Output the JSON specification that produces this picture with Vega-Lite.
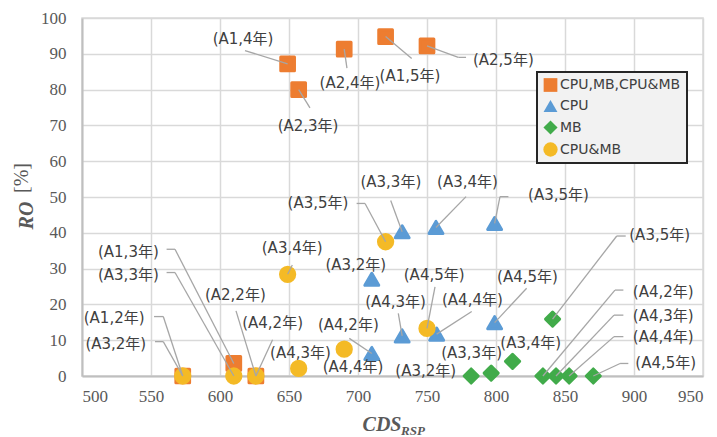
{
  "$schema": "https://vega.github.io/schema/vega-lite/v6.json",
  "width": 621,
  "height": 358,
  "autosize": "none",
  "padding": {"left": 82, "top": 18, "right": 14, "bottom": 61},
  "background": "white",
  "datasets": {
    "points": [
      {"s": "CPU,MB,CPU&MB", "x": 573, "y": 0},
      {"s": "CPU,MB,CPU&MB", "x": 610, "y": 3.5},
      {"s": "CPU,MB,CPU&MB", "x": 649, "y": 87.2},
      {"s": "CPU,MB,CPU&MB", "x": 720, "y": 94.8},
      {"s": "CPU,MB,CPU&MB", "x": 626, "y": 0},
      {"s": "CPU,MB,CPU&MB", "x": 657, "y": 80},
      {"s": "CPU,MB,CPU&MB", "x": 690, "y": 91.3},
      {"s": "CPU,MB,CPU&MB", "x": 750, "y": 92.2},
      {"s": "CPU", "x": 710, "y": 27},
      {"s": "CPU", "x": 732, "y": 40.3},
      {"s": "CPU", "x": 756.5, "y": 41.5},
      {"s": "CPU", "x": 799, "y": 42.6},
      {"s": "CPU", "x": 710, "y": 6.3},
      {"s": "CPU", "x": 732, "y": 11.2},
      {"s": "CPU", "x": 757, "y": 11.7},
      {"s": "CPU", "x": 799, "y": 14.9},
      {"s": "MB", "x": 782, "y": 0},
      {"s": "MB", "x": 796.5, "y": 0.8},
      {"s": "MB", "x": 812, "y": 4.1},
      {"s": "MB", "x": 841, "y": 15.9},
      {"s": "MB", "x": 834, "y": 0},
      {"s": "MB", "x": 843.5, "y": 0},
      {"s": "MB", "x": 853, "y": 0},
      {"s": "MB", "x": 870.5, "y": 0},
      {"s": "CPU&MB", "x": 573, "y": 0},
      {"s": "CPU&MB", "x": 610, "y": 0},
      {"s": "CPU&MB", "x": 649, "y": 28.4},
      {"s": "CPU&MB", "x": 720, "y": 37.5},
      {"s": "CPU&MB", "x": 626, "y": 0},
      {"s": "CPU&MB", "x": 657, "y": 2.1},
      {"s": "CPU&MB", "x": 690, "y": 7.5},
      {"s": "CPU&MB", "x": 750, "y": 13.3}
    ],
    "labels": [
      {"t": "(A1,2年)", "lx": 523.3, "ly": 16.1, "px": 573, "py": 0, "ex": 558.9, "ey": 16.6, "hx": 552.2},
      {"t": "(A1,3年)", "lx": 533.6, "ly": 34.7, "px": 610, "py": 3.5, "ex": 567.4, "ey": 35.4, "hx": 561.3},
      {"t": "(A1,4年)", "lx": 616.7, "ly": 94.1, "px": 649, "py": 87.2, "ex": 618.1, "ey": 90.9},
      {"t": "(A1,5年)", "lx": 737.7, "ly": 83.8, "px": 720, "py": 94.8, "ex": 738.9, "ey": 88.7},
      {"t": "(A2,2年)", "lx": 611.1, "ly": 22.6, "px": 626, "py": 0, "ex": 611.6, "ey": 18.2},
      {"t": "(A2,3年)", "lx": 663.8, "ly": 69.8, "px": 657, "py": 80, "ex": 665.2, "ey": 74.9},
      {"t": "(A2,4年)", "lx": 694.2, "ly": 81.8, "px": 690, "py": 91.3, "ex": 692, "ey": 86},
      {"t": "(A2,5年)", "lx": 805.3, "ly": 88.3, "px": 750, "py": 92.2, "ex": 772.7, "ey": 89, "hx": 778.3},
      {"t": "(A3,2年)", "lx": 698.4, "ly": 31},
      {"t": "(A3,3年)", "lx": 723.8, "ly": 54.1, "px": 732, "py": 40.3, "ex": 723.7, "ey": 49},
      {"t": "(A3,4年)", "lx": 779.3, "ly": 54.1, "px": 756.5, "py": 41.5, "ex": 778.3, "ey": 50.1},
      {"t": "(A3,5年)", "lx": 845.3, "ly": 50.6, "px": 799, "py": 42.6, "ex": 802.9, "ey": 50.1, "hx": 809},
      {"t": "(A4,2年)", "lx": 693, "ly": 14.2, "px": 710, "py": 6.3, "ex": 693.7, "ey": 10.5},
      {"t": "(A4,3年)", "lx": 727.2, "ly": 20.8, "px": 732, "py": 11.2, "ex": 729.2, "ey": 17.5},
      {"t": "(A4,4年)", "lx": 782.9, "ly": 21.2, "px": 757, "py": 11.7, "ex": 782.4, "ey": 18},
      {"t": "(A4,5年)", "lx": 822.8, "ly": 27.7, "px": 799, "py": 14.9, "ex": 822.2, "ey": 24.5},
      {"t": "(A3,2年)", "lx": 749.1, "ly": 1.5},
      {"t": "(A3,3年)", "lx": 782.3, "ly": 6.5},
      {"t": "(A3,4年)", "lx": 825.2, "ly": 9.1},
      {"t": "(A3,5年)", "lx": 918.6, "ly": 39.4, "px": 841, "py": 15.9, "ex": 887.5, "ey": 39.1, "hx": 894},
      {"t": "(A4,2年)", "lx": 921.2, "ly": 23.5, "px": 834, "py": 0, "ex": 886.2, "ey": 24, "hx": 892.3},
      {"t": "(A4,3年)", "lx": 921.2, "ly": 16.8, "px": 843.5, "py": 0, "ex": 885.5, "ey": 17, "hx": 892.3},
      {"t": "(A4,4年)", "lx": 921.2, "ly": 10.8, "px": 853, "py": 0, "ex": 885.5, "ey": 11, "hx": 892.3},
      {"t": "(A4,5年)", "lx": 923, "ly": 3.7, "px": 870.5, "py": 0, "ex": 889.9, "ey": 3.5, "hx": 895.9},
      {"t": "(A3,2年)", "lx": 524.5, "ly": 8.9, "px": 573, "py": 0, "ex": 558.9, "ey": 9.6, "hx": 552.9},
      {"t": "(A3,3年)", "lx": 533.6, "ly": 28.2, "px": 610, "py": 0, "ex": 567.4, "ey": 28.9, "hx": 561.3},
      {"t": "(A3,4年)", "lx": 652.3, "ly": 35.7, "px": 649, "py": 28.4, "ex": 652.4, "ey": 31},
      {"t": "(A3,5年)", "lx": 671, "ly": 48.3, "px": 720, "py": 37.5, "ex": 705.1, "ey": 48.2, "hx": 699},
      {"t": "(A4,2年)", "lx": 638.1, "ly": 14.9, "px": 626, "py": 0, "ex": 638.1, "ey": 10.1},
      {"t": "(A4,3年)", "lx": 658.3, "ly": 6.5},
      {"t": "(A4,4年)", "lx": 696.4, "ly": 2.6},
      {"t": "(A4,5年)", "lx": 755.2, "ly": 28.2, "px": 750, "py": 13.3, "ex": 755.8, "ey": 24.9}
    ]
  },
  "layer": [
    {
      "data": {"name": "points"},
      "mark": {"type": "point", "filled": true, "opacity": 1, "strokeWidth": 3, "strokeJoin": "round", "strokeOpacity": 1},
      "encoding": {
        "x": {
          "field": "x", "type": "quantitative",
          "scale": {"domain": [500, 950], "nice": false, "zero": false},
          "axis": {"values": [500, 550, 600, 650, 700, 750, 800, 850, 900, 950], "labelPadding": 12, "title": "CDS", "titleX": 299.5, "titleY": 54, "titleAlign": "center", "titleBaseline": "alphabetic"}
        },
        "y": {
          "field": "y", "type": "quantitative",
          "scale": {"domain": [0, 100], "nice": false},
          "axis": {"values": [0, 10, 20, 30, 40, 50, 60, 70, 80, 90, 100], "labelPadding": 16, "title": "RO", "titleX": -50, "titleY": 197, "titleAngle": 270, "titleAlign": "center", "titleBaseline": "alphabetic"}
        },
        "color": {
          "field": "s", "type": "nominal",
          "scale": {"domain": ["CPU,MB,CPU&MB", "CPU", "MB", "CPU&MB"], "range": ["#ed7d31", "#5b9bd5", "#41ab4a", "#f4ba26"]},
          "legend": {"orient": "none", "legendX": 455, "legendY": 54, "title": null}
        },
        "shape": {
          "field": "s", "type": "nominal",
          "scale": {"domain": ["CPU,MB,CPU&MB", "CPU", "MB", "CPU&MB"], "range": ["square", "triangle-up", "diamond", "circle"]},
          "legend": {"orient": "none", "legendX": 455, "legendY": 54, "title": null}
        },
        "stroke": {
          "field": "s", "type": "nominal",
          "scale": {"domain": ["CPU,MB,CPU&MB", "CPU", "MB", "CPU&MB"], "range": ["#ed7d31", "#5b9bd5", "#41ab4a", "#f4ba26"]},
          "legend": null
        },
        "size": {
          "field": "s", "type": "ordinal",
          "scale": {"domain": ["CPU,MB,CPU&MB", "CPU", "MB", "CPU&MB"], "range": [188, 204, 188, 147]},
          "legend": null
        }
      }
    },
    {
      "data": {"name": "labels"},
      "transform": [{"filter": {"field": "ex", "valid": true}}],
      "mark": {"type": "rule", "color": "#a6a6a6", "strokeWidth": 1.3},
      "encoding": {
        "x": {"field": "px", "type": "quantitative", "axis": {"values": [500, 550, 600, 650, 700, 750, 800, 850, 900, 950], "labelPadding": 12, "title": "CDS", "titleX": 299.5, "titleY": 54, "titleAlign": "center", "titleBaseline": "alphabetic"}},
        "y": {"field": "py", "type": "quantitative", "axis": {"values": [0, 10, 20, 30, 40, 50, 60, 70, 80, 90, 100], "labelPadding": 16, "title": "RO", "titleX": -50, "titleY": 197, "titleAngle": 270, "titleAlign": "center", "titleBaseline": "alphabetic"}},
        "x2": {"field": "ex"},
        "y2": {"field": "ey"}
      }
    },
    {
      "data": {"name": "labels"},
      "transform": [{"filter": {"field": "hx", "valid": true}}],
      "mark": {"type": "rule", "color": "#a6a6a6", "strokeWidth": 1.3},
      "encoding": {
        "x": {"field": "ex", "type": "quantitative", "axis": {"values": [500, 550, 600, 650, 700, 750, 800, 850, 900, 950], "labelPadding": 12, "title": "CDS", "titleX": 299.5, "titleY": 54, "titleAlign": "center", "titleBaseline": "alphabetic"}},
        "y": {"field": "ey", "type": "quantitative", "axis": {"values": [0, 10, 20, 30, 40, 50, 60, 70, 80, 90, 100], "labelPadding": 16, "title": "RO", "titleX": -50, "titleY": 197, "titleAngle": 270, "titleAlign": "center", "titleBaseline": "alphabetic"}},
        "x2": {"field": "hx"}
      }
    },
    {
      "data": {"name": "labels"},
      "mark": {"type": "text", "font": "DejaVu Sans, Noto Sans CJK JP", "fontSize": 15, "color": "#404040", "align": "center", "baseline": "middle"},
      "encoding": {
        "x": {"field": "lx", "type": "quantitative", "axis": {"values": [500, 550, 600, 650, 700, 750, 800, 850, 900, 950], "labelPadding": 12, "title": "CDS", "titleX": 299.5, "titleY": 54, "titleAlign": "center", "titleBaseline": "alphabetic"}},
        "y": {"field": "ly", "type": "quantitative", "axis": {"values": [0, 10, 20, 30, 40, 50, 60, 70, 80, 90, 100], "labelPadding": 16, "title": "RO", "titleX": -50, "titleY": 197, "titleAngle": 270, "titleAlign": "center", "titleBaseline": "alphabetic"}},
        "text": {"field": "t"}
      }
    },
    {
      "data": {"values": [{"t": "RSP"}]},
      "mark": {"type": "text", "font": "Liberation Serif", "fontSize": 13, "fontStyle": "italic", "fontWeight": "bold", "color": "#595959", "align": "left", "baseline": "alphabetic"},
      "encoding": {
        "x": {"datum": 731.2, "type": "quantitative", "axis": {"values": [500, 550, 600, 650, 700, 750, 800, 850, 900, 950], "labelPadding": 12, "title": "CDS", "titleX": 299.5, "titleY": 54, "titleAlign": "center", "titleBaseline": "alphabetic"}},
        "y": {"datum": -16.5, "type": "quantitative", "axis": {"values": [0, 10, 20, 30, 40, 50, 60, 70, 80, 90, 100], "labelPadding": 16, "title": "RO", "titleX": -50, "titleY": 197, "titleAngle": 270, "titleAlign": "center", "titleBaseline": "alphabetic"}},
        "text": {"field": "t"}
      }
    },
    {
      "data": {"values": [{"t": "[%]"}]},
      "mark": {"type": "text", "font": "Liberation Serif", "fontSize": 20, "color": "#595959", "align": "center", "baseline": "middle", "angle": 270},
      "encoding": {
        "x": {"datum": 456.5, "type": "quantitative", "axis": {"values": [500, 550, 600, 650, 700, 750, 800, 850, 900, 950], "labelPadding": 12, "title": "CDS", "titleX": 299.5, "titleY": 54, "titleAlign": "center", "titleBaseline": "alphabetic"}},
        "y": {"datum": 55.3, "type": "quantitative", "axis": {"values": [0, 10, 20, 30, 40, 50, 60, 70, 80, 90, 100], "labelPadding": 16, "title": "RO", "titleX": -50, "titleY": 197, "titleAngle": 270, "titleAlign": "center", "titleBaseline": "alphabetic"}},
        "text": {"field": "t"}
      }
    }
  ],
  "config": {
    "view": {"stroke": "#d9d9d9", "strokeWidth": 1.5},
    "axis": {
      "grid": true, "gridColor": "#d9d9d9", "gridWidth": 1.5,
      "domainColor": "#bfbfbf", "domainWidth": 2,
      "ticks": false, "labelOverlap": false,
      "labelFont": "Liberation Serif", "labelFontSize": 17, "labelColor": "#595959",
      "titleFont": "Liberation Serif", "titleFontSize": 20, "titleFontStyle": "italic", "titleFontWeight": "bold", "titleColor": "#595959"
    },
    "legend": {
      "fillColor": "#f2f2f2", "strokeColor": "#262626", "strokeWidth": 2,
      "padding": 6, "rowPadding": 7, "labelOffset": 2,
      "labelFont": "DejaVu Sans", "labelFontSize": 14, "labelColor": "#404040",
      "symbolSize": 150, "symbolStrokeWidth": 0
    }
  }
}
